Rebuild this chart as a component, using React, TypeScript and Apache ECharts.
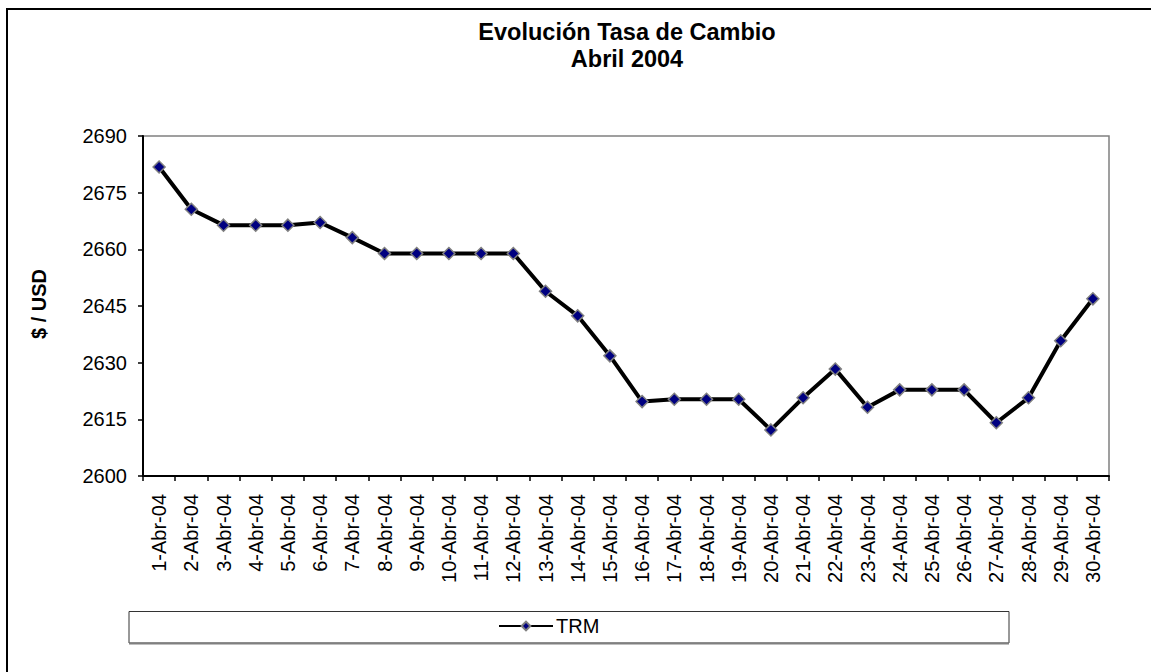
import React, { useEffect, useRef } from "react";
import * as echarts from "echarts";

const categories = [
  "1-Abr-04", "2-Abr-04", "3-Abr-04", "4-Abr-04", "5-Abr-04", "6-Abr-04",
  "7-Abr-04", "8-Abr-04", "9-Abr-04", "10-Abr-04", "11-Abr-04", "12-Abr-04",
  "13-Abr-04", "14-Abr-04", "15-Abr-04", "16-Abr-04", "17-Abr-04", "18-Abr-04",
  "19-Abr-04", "20-Abr-04", "21-Abr-04", "22-Abr-04", "23-Abr-04", "24-Abr-04",
  "25-Abr-04", "26-Abr-04", "27-Abr-04", "28-Abr-04", "29-Abr-04", "30-Abr-04",
];

const trm = [
  2681.8, 2670.6, 2666.4, 2666.4, 2666.4, 2667.1, 2663.1, 2658.9, 2658.9, 2658.9,
  2658.9, 2658.9, 2648.9, 2642.4, 2631.8, 2619.7, 2620.3, 2620.3, 2620.3, 2612.2,
  2620.7, 2628.3, 2618.2, 2622.8, 2622.8, 2622.8, 2614.1, 2620.7, 2635.8, 2646.9,
];

const seriesName = "TRM";
const titleLines = ["Evolución Tasa de Cambio", "Abril 2004"];
const yAxisTitle = "$ / USD";
const yMin = 2600;
const yMax = 2690;
const yStep = 15;

const FONT = "'Liberation Sans', Arial, sans-serif";

export default function App() {
  const ref = useRef<HTMLDivElement>(null);

  useEffect(() => {
    if (!ref.current) return;
    const chart = echarts.init(ref.current, undefined, { renderer: "svg" });
    chart.setOption({
      animation: false,
      backgroundColor: "#ffffff",
      textStyle: { fontFamily: FONT },
      title: {
        text: titleLines.join("\n"),
        left: 627,
        top: 18,
        textAlign: "center",
        padding: 0,
        textStyle: {
          fontFamily: FONT,
          fontSize: 23.5,
          fontWeight: "bold",
          color: "#000",
          lineHeight: 27.5,
        },
      },
      grid: {
        left: 143,
        right: 42,
        top: 136,
        bottom: 196,
        show: true,
        borderColor: "#808080",
        borderWidth: 1.5,
        backgroundColor: "#fff",
      },
      xAxis: {
        type: "category",
        data: categories,
        boundaryGap: true,
        axisLine: { show: true, lineStyle: { color: "#000", width: 2 } },
        axisTick: { show: true, inside: false, length: 5, lineStyle: { color: "#000", width: 1.5 }, alignWithLabel: false },
        axisLabel: {
          rotate: 90,
          interval: 0,
          margin: 18,
          fontSize: 20,
          color: "#000",
          fontFamily: FONT,
        },
        splitLine: { show: false },
      },
      yAxis: {
        type: "value",
        min: yMin,
        max: yMax,
        interval: yStep,
        axisLine: { show: true, lineStyle: { color: "#000", width: 2 } },
        axisTick: { show: true, length: 5, lineStyle: { color: "#000", width: 1.5 } },
        axisLabel: {
          fontSize: 20,
          color: "#000",
          margin: 16,
          fontFamily: FONT,
          formatter: (v: number) => String(v),
        },
        splitLine: { show: false },
      },
      legend: {
        show: true,
        left: 498,
        top: 616,
        padding: 0,
        itemWidth: 54,
        itemHeight: 11,
        itemGap: 10,
        textStyle: { fontSize: 20, color: "#000", fontFamily: FONT, padding: [0, 0, 0, -2] },
        data: [seriesName],
      },
      graphic: [
        {
          type: "rect",
          silent: true,
          shape: { x: 7, y: 9, width: 1170, height: 690 },
          style: { fill: "none", stroke: "#000", lineWidth: 2 },
          z: 100,
        },
        {
          type: "rect",
          silent: true,
          shape: { x: 129, y: 611.5, width: 880, height: 31.5 },
          style: { fill: "none", stroke: "#333", lineWidth: 1 },
          z: -1,
        },
        {
          type: "line",
          silent: true,
          shape: { x1: 129, y1: 643.5, x2: 1009, y2: 643.5 },
          style: { stroke: "#808080", lineWidth: 2 },
          z: -1,
        },
        {
          type: "text",
          silent: true,
          x: 39,
          y: 304,
          rotation: Math.PI / 2,
          style: {
            text: yAxisTitle,
            fontSize: 20,
            fontWeight: "bold",
            fontFamily: FONT,
            fill: "#000",
            align: "center",
            verticalAlign: "middle",
          },
        },
      ],
      series: [
        {
          name: seriesName,
          type: "line",
          data: trm,
          symbol: "diamond",
          symbolSize: 12,
          showSymbol: true,
          lineStyle: { color: "#000", width: 4 },
          itemStyle: { color: "#000080", borderColor: "#808080", borderWidth: 1.5 },
          emphasis: { disabled: true },
        },
      ],
    });
    return () => chart.dispose();
  }, []);

  return (
    <div
      ref={ref}
      style={{ position: "fixed", left: 0, top: 0, width: 1151, height: 672, background: "#fff" }}
    />
  );
}
